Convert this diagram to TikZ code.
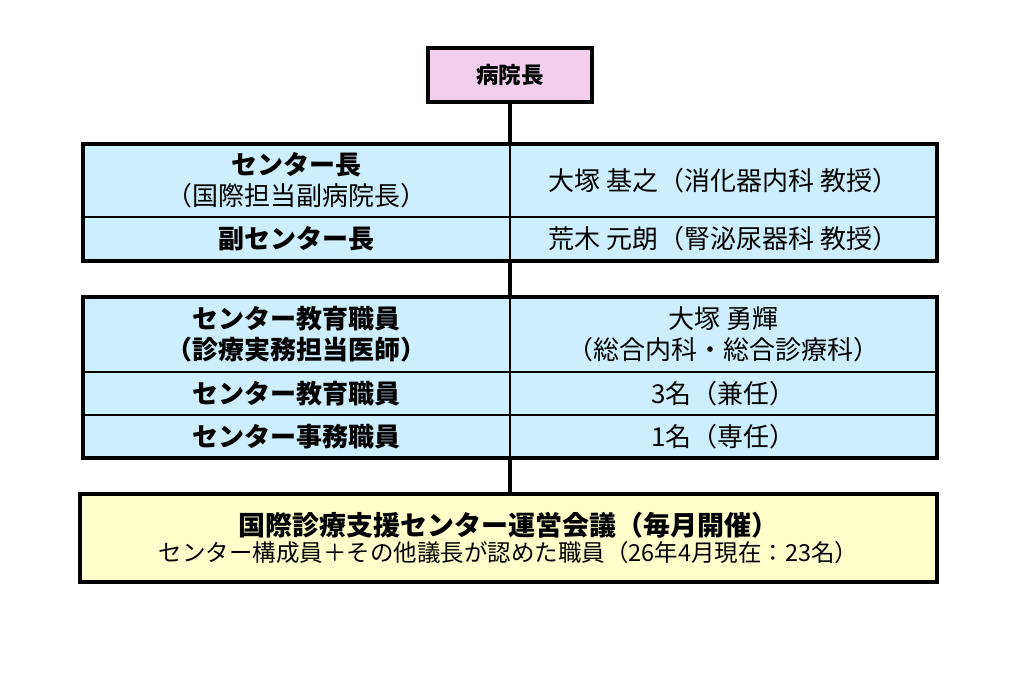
\documentclass[tikz,border=0pt]{standalone}
\usepackage{fontspec}
\setmainfont{Noto Sans CJK JP}
\usepackage{tikz}
\definecolor{headpink}{HTML}{F2CEEE}
\definecolor{cellblue}{HTML}{CCEEFD}
\definecolor{meetyellow}{HTML}{FFFFCC}
\tikzstyle{cell}=[rectangle, draw=black, line width=1.2pt, fill=cellblue, inner sep=0pt, minimum width=427pt, align=center, font=\fontsize{26}{31}\selectfont]
\tikzstyle{frame}=[rectangle, draw=black, line width=3.6pt, inner sep=0pt, minimum width=854pt]
\tikzstyle{link}=[draw=black, line width=3.6pt]

\begin{document}
\begin{tikzpicture}[x=1pt, y=-1pt]
\useasboundingbox (0,0) rectangle (1033,676);

\node[rectangle, draw=black, line width=3.6pt, fill=headpink, minimum width=164pt, minimum height=54pt, font=\fontsize{22.5}{26}\selectfont\bfseries] (head) at (510,75) {病院長};

\node[cell, minimum height=73pt] (chief) at (296.5,180.5) {\textbf{センター長}\\（国際担当副病院長）};
\node[cell, minimum height=73pt] (chiefname) at (723.5,180.5) {大塚 基之（消化器内科 教授）};
\node[cell, minimum height=44pt] (vice) at (296.5,239) {\textbf{副センター長}};
\node[cell, minimum height=44pt] (vicename) at (723.5,239) {荒木 元朗（腎泌尿器科 教授）};
\node[frame, minimum height=117pt] (board) at (510,202.5) {};

\node[cell, minimum height=75pt] (edu) at (296.5,334.5) {\textbf{センター教育職員}\\\textbf{（診療実務担当医師）}};
\node[cell, minimum height=75pt] (eduname) at (723.5,334.5) {大塚 勇輝\\（総合内科・総合診療科）};
\node[cell, minimum height=43pt] (staff) at (296.5,393.5) {\textbf{センター教育職員}};
\node[cell, minimum height=43pt] (staffnum) at (723.5,393.5) {3名（兼任）};
\node[cell, minimum height=43pt] (office) at (296.5,436.5) {\textbf{センター事務職員}};
\node[cell, minimum height=43pt] (officenum) at (723.5,436.5) {1名（専任）};
\node[frame, minimum height=161pt] (members) at (510,377.5) {};

\node[rectangle, draw=black, line width=3.6pt, fill=meetyellow, minimum width=857pt, minimum height=88pt, align=center] (meeting) at (508.5,538) {{\fontsize{27}{31}\selectfont\bfseries 国際診療支援センター運営会議（毎月開催）}\\[2pt]{\fontsize{23.5}{29}\selectfont センター構成員＋その他議長が認めた職員（26年4月現在：23名）}};

\draw[link] (head.south) -- (board.north);
\draw[link] (board.south) -- (members.north);
\draw[link] (members.south) -- (members.south |- meeting.north);
\end{tikzpicture}
\end{document}
